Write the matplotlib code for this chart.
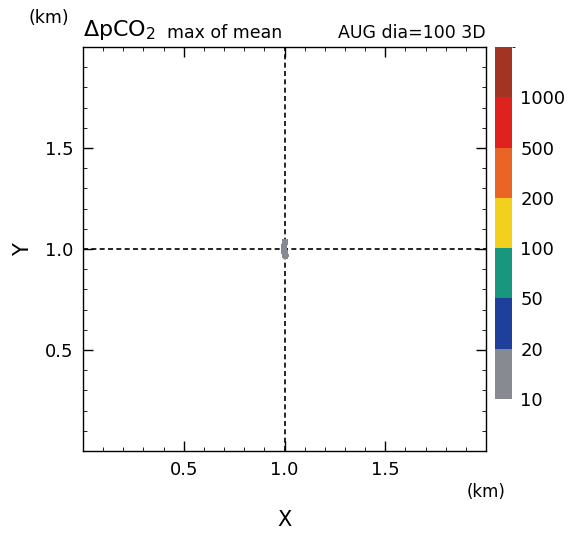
import numpy as np
import matplotlib
matplotlib.use("Agg")
import matplotlib.pyplot as plt
from matplotlib.colors import ListedColormap, BoundaryNorm
import matplotlib.colorbar as mcolorbar
from matplotlib.ticker import MultipleLocator

plt.rcParams['font.family'] = ['DejaVu Sans']

# data
levels = [10, 20, 50, 100, 200, 500, 1000, 2000]
level_labels = ["10", "20", "50", "100", "200", "500", "1000"]
colors = ["#878a91", "#1f3f9c", "#16977e", "#f4d01e", "#ea6426", "#e0221e", "#a33323"]
blob_x = [0.975, 0.985, 0.995, 1.005, 1.015, 1.025, 1.035]
blob_y = [0.94, 0.955, 0.97, 0.985, 1.0, 1.015, 1.03, 1.045, 1.06]
blob_val = [
    [0, 0, 0, 0, 0, 0, 0],
    [0, 0, 13, 14, 12, 0, 0],
    [0, 0, 15, 16, 14, 0, 0],
    [0, 12, 16, 16, 12, 0, 0],
    [0, 12, 16, 16, 0, 0, 0],
    [0, 12, 16, 16, 0, 0, 0],
    [0, 0, 15, 15, 12, 0, 0],
    [0, 0, 14, 14, 12, 0, 0],
    [0, 0, 0, 0, 0, 0, 0],
]
xticks = [0.5, 1.0, 1.5]
yticks = [0.5, 1.0, 1.5]

cmap = ListedColormap(colors)
norm = BoundaryNorm(levels, cmap.N)

fig = plt.figure(figsize=(5.72, 5.36), dpi=100)
ax = fig.add_axes([0.1451, 0.1586, 0.7046, 0.7537])
ax.axvline(1.0, color='black', ls=(0, (3, 2)), lw=1.2, zorder=1)
ax.axhline(1.0, color='black', ls=(0, (3, 2)), lw=1.2, zorder=1)
ax.contourf(blob_x, blob_y, np.array(blob_val), levels=levels, cmap=cmap, norm=norm, zorder=2)
ax.set_xlim(0, 2.0)
ax.set_ylim(0, 2.0)
ax.set_xticks(xticks)
ax.set_yticks(yticks)
ax.set_xticklabels([f"{v:.1f}" for v in xticks])
ax.set_yticklabels([f"{v:.1f}" for v in yticks])
ax.xaxis.set_minor_locator(MultipleLocator(0.1))
ax.yaxis.set_minor_locator(MultipleLocator(0.1))
ax.tick_params(which='both', direction='in', top=True, right=True, labelsize=13, colors='black')
ax.tick_params(which='major', length=7, width=1, pad=7)
ax.tick_params(which='minor', length=3, width=0.6)
for s in ax.spines.values():
    s.set_linewidth(1.0)

fig.text(0.498, 0.03, "X", ha='center', va='center', fontsize=15)
fig.text(0.04, 0.535, "Y", ha='center', va='center', fontsize=15, rotation=90)
fig.text(0.884, 0.082, "(km)", ha='right', va='center', fontsize=12)
fig.text(0.05, 0.966, "(km)", ha='left', va='center', fontsize=12.5)
fig.text(0.145, 0.944, r"$\Delta$pCO$_2$", ha='left', va='center', fontsize=16)
fig.text(0.292, 0.939, "max of mean", ha='left', va='center', fontsize=12.5)
fig.text(0.849, 0.939, "AUG dia=100 3D", ha='right', va='center', fontsize=12.5)

cax = fig.add_axes([0.865, 0.2556, 0.030, 0.6567])
cb = mcolorbar.ColorbarBase(cax, cmap=cmap, norm=norm, boundaries=levels,
                            spacing='uniform', orientation='vertical')
cb.set_ticks(levels[:-1])
cb.set_ticklabels(level_labels)
cb.outline.set_visible(False)
cax.tick_params(length=0, labelsize=13, pad=6)

fig.savefig("out.png", dpi=100)
